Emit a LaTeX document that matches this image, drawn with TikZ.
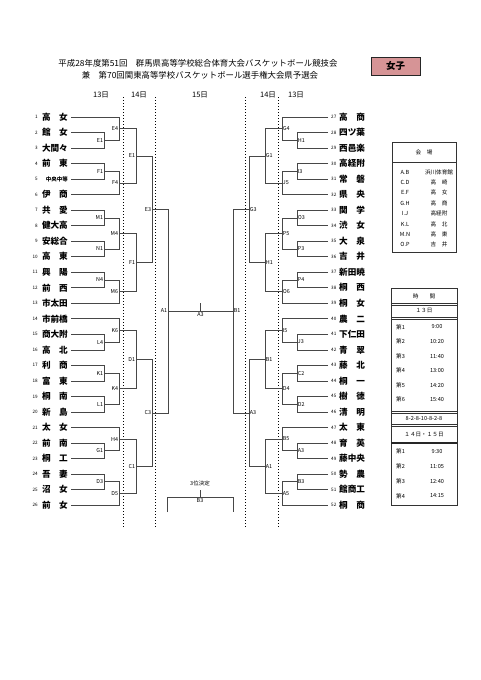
\documentclass[tikz,border=0pt]{standalone}
\usepackage{fontspec}
\setmainfont{Noto Sans CJK JP}
\usetikzlibrary{calc}
\definecolor{pinkbox}{RGB}{214,148,150}
\tikzset{
 br/.style={line width=0.6pt, draw=black!72},
 mlbl/.style={font=\fontsize{5.4}{5.5}\selectfont, inner sep=0.7pt},
 tname/.style={font=\fontsize{8.6}{9}\selectfont\bfseries, inner sep=0pt},
 tnum/.style={font=\fontsize{4.6}{5}\selectfont, inner sep=0pt},
 dots/.style={dotted, line width=1pt},
 day/.style={font=\fontsize{7.5}{8}\selectfont, inner sep=0pt},
 ttl/.style={font=\fontsize{8.4}{9}\selectfont, inner sep=0pt},
 tab/.style={font=\fontsize{5.6}{6}\selectfont, inner sep=0pt},
 frame/.style={line width=0.7pt, draw=black!80},
}
\newcommand\Lmatch[5]{%
 \coordinate (tmp) at ($(#3)!0.5!(#4)$);
 \coordinate (vx) at (#2,0);
 \coordinate (#1) at (vx |- tmp);
 \draw[br] (#3) -- (#3 -| #1) -- (#4 -| #1) -- (#4);
 \node[mlbl, anchor=east] (lab#1) at (#1) {#5};
}
\newcommand\Rmatch[5]{%
 \coordinate (tmp) at ($(#3)!0.5!(#4)$);
 \coordinate (vx) at (#2,0);
 \coordinate (#1) at (vx |- tmp);
 \draw[br] (#3) -- (#3 -| #1) -- (#4 -| #1) -- (#4);
 \node[mlbl, anchor=west] (lab#1) at (#1) {#5};
}
\newcommand\Lteam[2]{%
 \pgfmathsetmacro\yy{117+(#1-1)*15.52}
 \node[tnum, anchor=east] (ln#1) at (38,\yy) {#1};
 \node[tname, anchor=east] (lt#1) at (68,\yy) {#2};
 \coordinate (T#1) at (71,\yy);
}
\newcommand\Rteam[2]{%
 \pgfmathsetmacro\yy{117+(#1-27)*15.52}
 \coordinate (T#1) at (328,\yy);
 \node[tnum, anchor=west] (rn#1) at (331,\yy) {#1};
 \node[tname, anchor=west] (rt#1) at (339,\yy) {#2};
}
\begin{document}
\begin{tikzpicture}[x=1pt,y=-1pt]
\useasboundingbox (0,0) rectangle (481,680);
\fill[white] (0,0) rectangle (481,680);

% title
\node[ttl] (title1) at (198,63) {平成28年度第51回　群馬県高等学校総合体育大会バスケットボール競技会};
\node[ttl] (title2) at (200,75) {兼　第70回関東高等学校バスケットボール選手権大会県予選会};
\node[draw=black!85, line width=0.9pt, fill=pinkbox, minimum width=49pt, minimum height=18pt, inner sep=0pt, font=\fontsize{9.5}{10}\selectfont\bfseries] (girls) at (395.5,66) {女子};

% day headers
\node[day] (d1) at (101,95) {13日};
\node[day] (d2) at (139,95) {14日};
\node[day] (d3) at (200,95) {15日};
\node[day] (d4) at (268,95) {14日};
\node[day] (d5) at (296,95) {13日};

% dotted day separators
\draw[dots] (123,97) -- (123,528);
\draw[dots] (155,97) -- (155,528);
\draw[dots] (245,97) -- (245,528);
\draw[dots] (278,97) -- (278,528);

% left teams
\Lteam{1}{高　女}
\Lteam{2}{館　女}
\Lteam{3}{大間々}
\Lteam{4}{前　東}
\Lteam{5}{\fontsize{5.5}{6}\selectfont 中央中等}
\Lteam{6}{伊　商}
\Lteam{7}{共　愛}
\Lteam{8}{健大高}
\Lteam{9}{安総合}
\Lteam{10}{高　東}
\Lteam{11}{興　陽}
\Lteam{12}{前　西}
\Lteam{13}{市太田}
\Lteam{14}{市前橋}
\Lteam{15}{商大附}
\Lteam{16}{高　北}
\Lteam{17}{利　商}
\Lteam{18}{富　東}
\Lteam{19}{桐　南}
\Lteam{20}{新　島}
\Lteam{21}{太　女}
\Lteam{22}{前　南}
\Lteam{23}{桐　工}
\Lteam{24}{吾　妻}
\Lteam{25}{沼　女}
\Lteam{26}{前　女}

% right teams
\Rteam{27}{高　商}
\Rteam{28}{四ツ葉}
\Rteam{29}{西邑楽}
\Rteam{30}{高経附}
\Rteam{31}{常　磐}
\Rteam{32}{県　央}
\Rteam{33}{関　学}
\Rteam{34}{渋　女}
\Rteam{35}{大　泉}
\Rteam{36}{吉　井}
\Rteam{37}{新田暁}
\Rteam{38}{桐　西}
\Rteam{39}{桐　女}
\Rteam{40}{農　二}
\Rteam{41}{下仁田}
\Rteam{42}{青　翠}
\Rteam{43}{藤　北}
\Rteam{44}{桐　一}
\Rteam{45}{樹　徳}
\Rteam{46}{清　明}
\Rteam{47}{太　東}
\Rteam{48}{育　英}
\Rteam{49}{藤中央}
\Rteam{50}{勢　農}
\Rteam{51}{館商工}
\Rteam{52}{桐　商}

% left bracket
\Lmatch{LE1a}{104}{T2}{T3}{E1}
\Lmatch{LE4}{119}{T1}{LE1a}{E4}
\Lmatch{LF1a}{104}{T4}{T5}{F1}
\Lmatch{LF4}{119}{LF1a}{T6}{F4}
\Lmatch{LE1b}{136}{LE4}{LF4}{E1}
\Lmatch{LM1}{104}{T7}{T8}{M1}
\Lmatch{LN1}{104}{T9}{T10}{N1}
\Lmatch{LM4}{119}{LM1}{LN1}{M4}
\Lmatch{LN4}{104}{T11}{T12}{N4}
\Lmatch{LM6}{119}{LN4}{T13}{M6}
\Lmatch{LF1b}{136}{LM4}{LM6}{F1}
\Lmatch{LE3}{152}{LE1b}{LF1b}{E3}
\Lmatch{LL4}{104}{T15}{T16}{L4}
\Lmatch{LK6}{119}{T14}{LL4}{K6}
\Lmatch{LK1}{104}{T17}{T18}{K1}
\Lmatch{LL1}{104}{T19}{T20}{L1}
\Lmatch{LK4}{119}{LK1}{LL1}{K4}
\Lmatch{LD1}{136}{LK6}{LK4}{D1}
\Lmatch{LG1}{104}{T22}{T23}{G1}
\Lmatch{LH4}{119}{T21}{LG1}{H4}
\Lmatch{LD3}{104}{T24}{T25}{D3}
\Lmatch{LD5}{119}{LD3}{T26}{D5}
\Lmatch{LC1}{136}{LH4}{LD5}{C1}
\Lmatch{LC3}{152}{LD1}{LC1}{C3}
\Lmatch{LA1}{168}{LE3}{LC3}{A1}

% right bracket
\Rmatch{RH1}{297}{T28}{T29}{H1}
\Rmatch{RG4}{282}{T27}{RH1}{G4}
\Rmatch{RI3}{297}{T30}{T31}{I3}
\Rmatch{RJ5}{282}{RI3}{T32}{J5}
\Rmatch{RG1}{265}{RG4}{RJ5}{G1}
\Rmatch{RO3}{297}{T33}{T34}{O3}
\Rmatch{RP3}{297}{T35}{T36}{P3}
\Rmatch{RP5}{282}{RO3}{RP3}{P5}
\Rmatch{RP4}{297}{T37}{T38}{P4}
\Rmatch{RO6}{282}{RP4}{T39}{O6}
\Rmatch{RH1b}{265}{RP5}{RO6}{H1}
\Rmatch{RG3}{249}{RG1}{RH1b}{G3}
\Rmatch{RJ3}{297}{T41}{T42}{J3}
\Rmatch{RI5}{282}{T40}{RJ3}{I5}
\Rmatch{RC2}{297}{T43}{T44}{C2}
\Rmatch{RD2}{297}{T45}{T46}{D2}
\Rmatch{RD4}{282}{RC2}{RD2}{D4}
\Rmatch{RB1}{265}{RI5}{RD4}{B1}
\Rmatch{RA3}{297}{T48}{T49}{A3}
\Rmatch{RB5}{282}{T47}{RA3}{B5}
\Rmatch{RB3}{297}{T50}{T51}{B3}
\Rmatch{RA5}{282}{RB3}{T52}{A5}
\Rmatch{RA1}{265}{RB5}{RA5}{A1}
\Rmatch{RA3b}{249}{RB1}{RA1}{A3}
\Rmatch{RB1b}{233}{RG3}{RA3b}{B1}

% final
\draw[br] (LA1) -- (RB1b);
\coordinate (fin) at ($(LA1)!0.5!(RB1b)$);
\coordinate (fintop) at ($(fin)+(0,-8)$);
\draw[br] (fin) -- (fintop);
\node[mlbl, anchor=north] (finlab) at ($(fin)+(0,1)$) {A3};

% third place
\node[font=\fontsize{5.5}{6}\selectfont, inner sep=0pt] (third) at (200,483) {3位決定};
\coordinate (tp) at (200,497);
\coordinate (tpt) at (200,490);
\coordinate (tpl) at (167,497);
\coordinate (tpr) at (233,497);
\coordinate (tpld) at (167,512);
\coordinate (tprd) at (233,512);
\draw[br] (tp) -- (tpt);
\draw[br] (tpld) -- (tpl) -- (tpr) -- (tprd);
\node[mlbl, anchor=north] (tplab) at ($(tp)+(0,1)$) {B3};

% venue table
\draw[frame] (392,142) rectangle (456,252);
\draw[frame] (392,162) -- (456,162);
\node[tab] (vh) at (424,152) {会　場};
\foreach \c/\n [count=\i from 0] in {A.B/浜川体育館, C.D/高　崎, E.F/高　女, G.H/高　商, I.J/高経附, K.L/高　北, M.N/高　東, O.P/吉　井}{
  \node[tab] (vc\i) at (405,{172+\i*10.4}) {\c};
  \node[tab] (vn\i) at (439,{172+\i*10.4}) {\n};
}

% time table
\draw[frame] (391,288) rectangle (457,505);
\draw[frame] (391,303) -- (457,303);
\draw[frame] (391,305.5) -- (457,305.5);
\draw[frame] (391,317) -- (457,317);
\draw[frame] (391,319) -- (457,319);
\draw[frame] (391,411) -- (457,411);
\draw[frame] (391,413) -- (457,413);
\draw[frame] (391,424) -- (457,424);
\draw[frame] (391,426) -- (457,426);
\draw[line width=1.2pt, draw=black!85] (391,443) -- (457,443);
\node[tab] (th) at (424,296) {時　　間};
\node[tab] (d13) at (424,311) {１３日};
\foreach \t/\h [count=\i from 0] in {1/9:00, 2/10:20, 3/11:40, 4/13:00, 5/14:20, 6/15:40}{
  \node[tab, anchor=west] (ta\i) at (396,{327+\i*14.5}) {第\t};
  \node[tab] (tb\i) at (437,{327+\i*14.5}) {\h};
}
\node[tab] (seq) at (424,418.5) {8-2-8-10-8-2-8};
\node[tab] (d1415) at (424,435) {１４日・１５日};
\foreach \t/\h [count=\i from 0] in {1/9:30, 2/11:05, 3/12:40, 4/14:15}{
  \node[tab, anchor=west] (tc\i) at (396,{451+\i*15}) {第\t};
  \node[tab] (td\i) at (437,{451+\i*15}) {\h};
}
\end{tikzpicture}
\end{document}
